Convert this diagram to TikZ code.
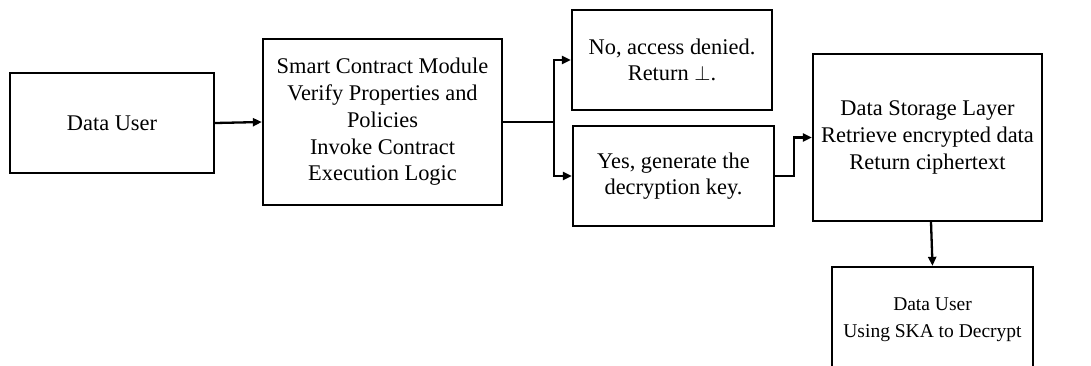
\documentclass[tikz,border=0pt]{standalone}
\usepackage{fontspec}
\setmainfont{Liberation Serif}
\usetikzlibrary{arrows.meta}
\begin{document}
\begin{tikzpicture}[x=1pt, y=-1pt,
		every node/.style={draw, line width=2.3pt, align=center, inner sep=0pt,
			font=\fontsize{22.4}{26.7}\selectfont},
		every path/.style={line width=2.3pt},
		flow/.style={-{Triangle[length=9pt,width=8pt]}}]
	\useasboundingbox (0,0) rectangle (1091,365);
	\node[minimum width=204, minimum height=100] (du) at (112, 123) {Data User};
	\node[minimum width=239, minimum height=166] (scm) at (382.5, 122) {Smart Contract Module\\Verify Properties and\\Policies\\Invoke Contract\\Execution Logic};
	\node[minimum width=200, minimum height=100] (no) at (672, 60) {No, access denied.\\Return $\perp$.};
	\node[minimum width=201, minimum height=100] (yes) at (673.5, 176) {Yes, generate the\\decryption key.};
	\node[minimum width=229, minimum height=167] (ds) at (927.5, 137.5) {Data Storage Layer\\Retrieve encrypted data\\Return ciphertext};
	\node[minimum width=201, minimum height=106, font=\fontsize{19.5}{26.7}\selectfont] (du2) at (932.5, 320) {Data User\\Using SKA to Decrypt};
	\coordinate (fork) at (554, 122);
	\coordinate (bend) at (794, 176);
	\draw[flow] (du.east) -- (scm.west);
	\draw (scm.east) -- (fork);
	\draw[flow] (fork) |- (no.west);
	\draw[flow] (fork) |- (yes.west);
	\draw[flow] (yes.east) -- (bend) |- (ds.west);
	\draw[flow] ([xshift=3.5]ds.south) -- (du2.north);
\end{tikzpicture}
\end{document}
